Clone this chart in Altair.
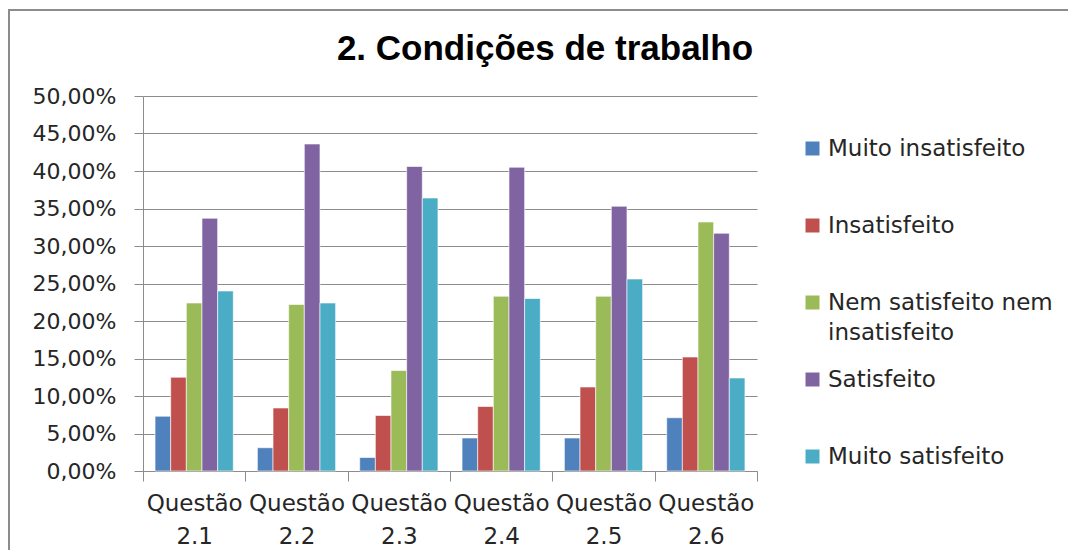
import altair as alt
import pandas as pd

questions = ["Questão 2.1", "Questão 2.2", "Questão 2.3", "Questão 2.4", "Questão 2.5", "Questão 2.6"]
series = ["Muito insatisfeito", "Insatisfeito", "Nem satisfeito nem insatisfeito", "Satisfeito", "Muito satisfeito"]
colors = ["#4F81BD", "#C0504D", "#9BBB59", "#8064A2", "#4BACC6"]

muito_insatisfeito = [7.3, 3.1, 1.8, 4.4, 4.4, 7.1]
insatisfeito = [12.5, 8.4, 7.4, 8.6, 11.2, 15.2]
nem_nem = [22.4, 22.2, 13.4, 23.3, 23.3, 33.2]
satisfeito = [33.7, 43.6, 40.6, 40.5, 35.3, 31.7]
muito_satisfeito = [24.0, 22.4, 36.4, 23.0, 25.6, 12.4]

y_ticks = [0, 5, 10, 15, 20, 25, 30, 35, 40, 45, 50]

rows = []
for s, vals in zip(series, [muito_insatisfeito, insatisfeito, nem_nem, satisfeito, muito_satisfeito]):
    for q, v in zip(questions, vals):
        rows.append({"questao": q, "serie": s, "valor": v})
df = pd.DataFrame(rows)

FONT = "DejaVu Sans"
TXT = "#262626"
GRID = "#8c8c8c"

legend_expr = ("datum.label == 'Nem satisfeito nem insatisfeito' ? "
               "['Nem satisfeito nem', 'insatisfeito'] : [datum.label, '']")

bars = alt.Chart(df).mark_bar(stroke="white", strokeWidth=0.6).encode(
    x=alt.X("questao:N", sort=questions, title=None,
            scale=alt.Scale(paddingInner=0, paddingOuter=0),
            axis=alt.Axis(labelAngle=0, labelExpr="split(datum.label, ' ')",
                          labelFont=FONT, labelFontSize=23, labelColor=TXT,
                          labelLineHeight=33, labelPadding=11, labelBaseline="top",
                          tickBand="extent", tickSize=10, tickColor=GRID,
                          domainColor=GRID, grid=False)),
    xOffset=alt.XOffset("serie:N", sort=series,
                        scale=alt.Scale(paddingInner=0, paddingOuter=0.77)),
    y=alt.Y("valor:Q", title=None,
            scale=alt.Scale(domain=[0, 50], nice=False),
            axis=alt.Axis(values=y_ticks,
                          labelExpr="replace(format(datum.value, '.2f'), '.', ',') + '%'",
                          labelFont=FONT, labelFontSize=22, labelColor=TXT,
                          labelPadding=18, tickSize=9, tickColor=GRID,
                          domainColor=GRID, gridColor=GRID, gridWidth=1.2)),
    color=alt.Color("serie:N", sort=series,
                    scale=alt.Scale(domain=series, range=colors),
                    legend=alt.Legend(title=None, orient="none", legendX=658, legendY=41,
                                      symbolType="square", symbolSize=196,
                                      symbolStrokeWidth=0, labelFont=FONT,
                                      labelFontSize=23, labelColor=TXT, labelLimit=400,
                                      labelOffset=4, rowPadding=23,
                                      labelExpr=legend_expr)),
)

border = alt.Chart(alt.Data(values=[{}])).mark_rect(
    fillOpacity=0, stroke="#8c8c8c", strokeWidth=2
).encode(
    x=alt.value(-134), x2=alt.value(1000), y=alt.value(-86), y2=alt.value(700)
)

chart = alt.layer(border, bars).properties(
    width=614, height=375,
    autosize=alt.AutoSizeParams(type="none"),
    padding={"left": 135, "top": 88, "right": 311, "bottom": 79},
    title=alt.TitleParams("2. Condições de trabalho", font="Liberation Sans",
                          fontSize=35, fontWeight="bold", color="#000000",
                          anchor="middle", dx=95, offset=-58),
).configure(
    background="white",
    style={"guide-label": {"lineHeight": 30}},
).configure_view(stroke="transparent")

chart.save("out.html", embed_options={"renderer": "svg", "actions": False})
